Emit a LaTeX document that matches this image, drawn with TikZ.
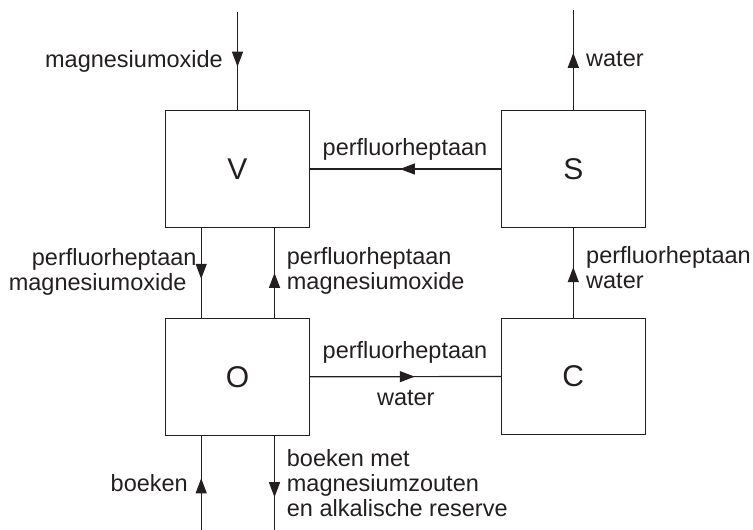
\documentclass[tikz,border=0pt]{standalone}
\usepackage{fontspec}
\setmainfont{Liberation Sans}
\usetikzlibrary{arrows.meta,decorations.markings}
\definecolor{ink}{HTML}{231F20}
\begin{document}
\begin{tikzpicture}[x=1pt,y=-1pt,
  unit/.style={draw=ink,line width=1pt,minimum width=143.6pt,minimum height=116.5pt,inner sep=0pt,font=\fontsize{30}{32}\selectfont,text=ink},
  flow/.style={draw=ink,color=ink,line width=1.2pt},
  midarrow/.style={postaction={decorate},decoration={markings,mark=at position #1 with {\arrow{Triangle[length=15pt,width=11pt]}}}},
  lbl/.style={inner sep=0pt,font=\fontsize{23.5}{25}\selectfont,text=ink}
]
\useasboundingbox (0,0) rectangle (753,530);

\node[unit] (V) at (237.5,169) {V};
\node[unit] (S) at (573.3,169) {S};
\node[unit] (O) at (237.5,376.8) {O};
\node[unit] (C) at (573.3,376.5) {C};

\coordinate (vin) at (237.5,12);
\coordinate (sout) at (573.3,10);
\coordinate (bin) at ([xshift=36pt]O.south west |- 0,530);
\coordinate (bout) at ([xshift=-35.3pt]O.south east |- 0,530);

\draw[flow,midarrow=0.557] (vin) -- (V.north);
\draw[flow,midarrow=0.573] (S.north) -- (sout);
\draw[flow,midarrow=0.529] (S.west) -- (V.east);
\draw[flow,midarrow=0.566] ([xshift=36pt]V.south west) -- ([xshift=36pt]O.north west);
\draw[flow,midarrow=0.5] ([xshift=-35.3pt]O.north east) -- ([xshift=-35.3pt]V.south east);
\draw[flow,midarrow=0.562] (C.north) -- (S.south);
\draw[flow,midarrow=0.549] (O.east) -- (C.west);
\draw[flow,midarrow=0.547] (bin) -- ([xshift=36pt]O.south west);
\draw[flow,midarrow=0.653] ([xshift=-35.3pt]O.south east) -- (bout);

\node[lbl,anchor=base east] (l1) at (223,67.5) {magnesiumoxide};
\node[lbl,anchor=base west] (l2) at (586,66.7) {water};
\node[lbl,anchor=base] (l3) at (405,155) {perfluorheptaan};
\node[lbl,align=right,anchor=north east] (l4) at (196.7,248) {perfluorheptaan\\magnesiumoxide\hspace*{10pt}};
\node[lbl,align=left,anchor=north west] (l5) at (286.7,247.5) {perfluorheptaan\\magnesiumoxide};
\node[lbl,align=left,anchor=north west] (l6) at (586,246.5) {perfluorheptaan\\water};
\node[lbl,anchor=base] (l7) at (405,358.3) {perfluorheptaan};
\node[lbl,anchor=base] (l8) at (405.8,405) {water};
\node[lbl,anchor=base east] (l9) at (188,491.7) {boeken};
\node[lbl,align=left,anchor=north west] (l10) at (286.7,449.7) {boeken met\\magnesiumzouten\\en alkalische reserve};
\end{tikzpicture}
\end{document}
